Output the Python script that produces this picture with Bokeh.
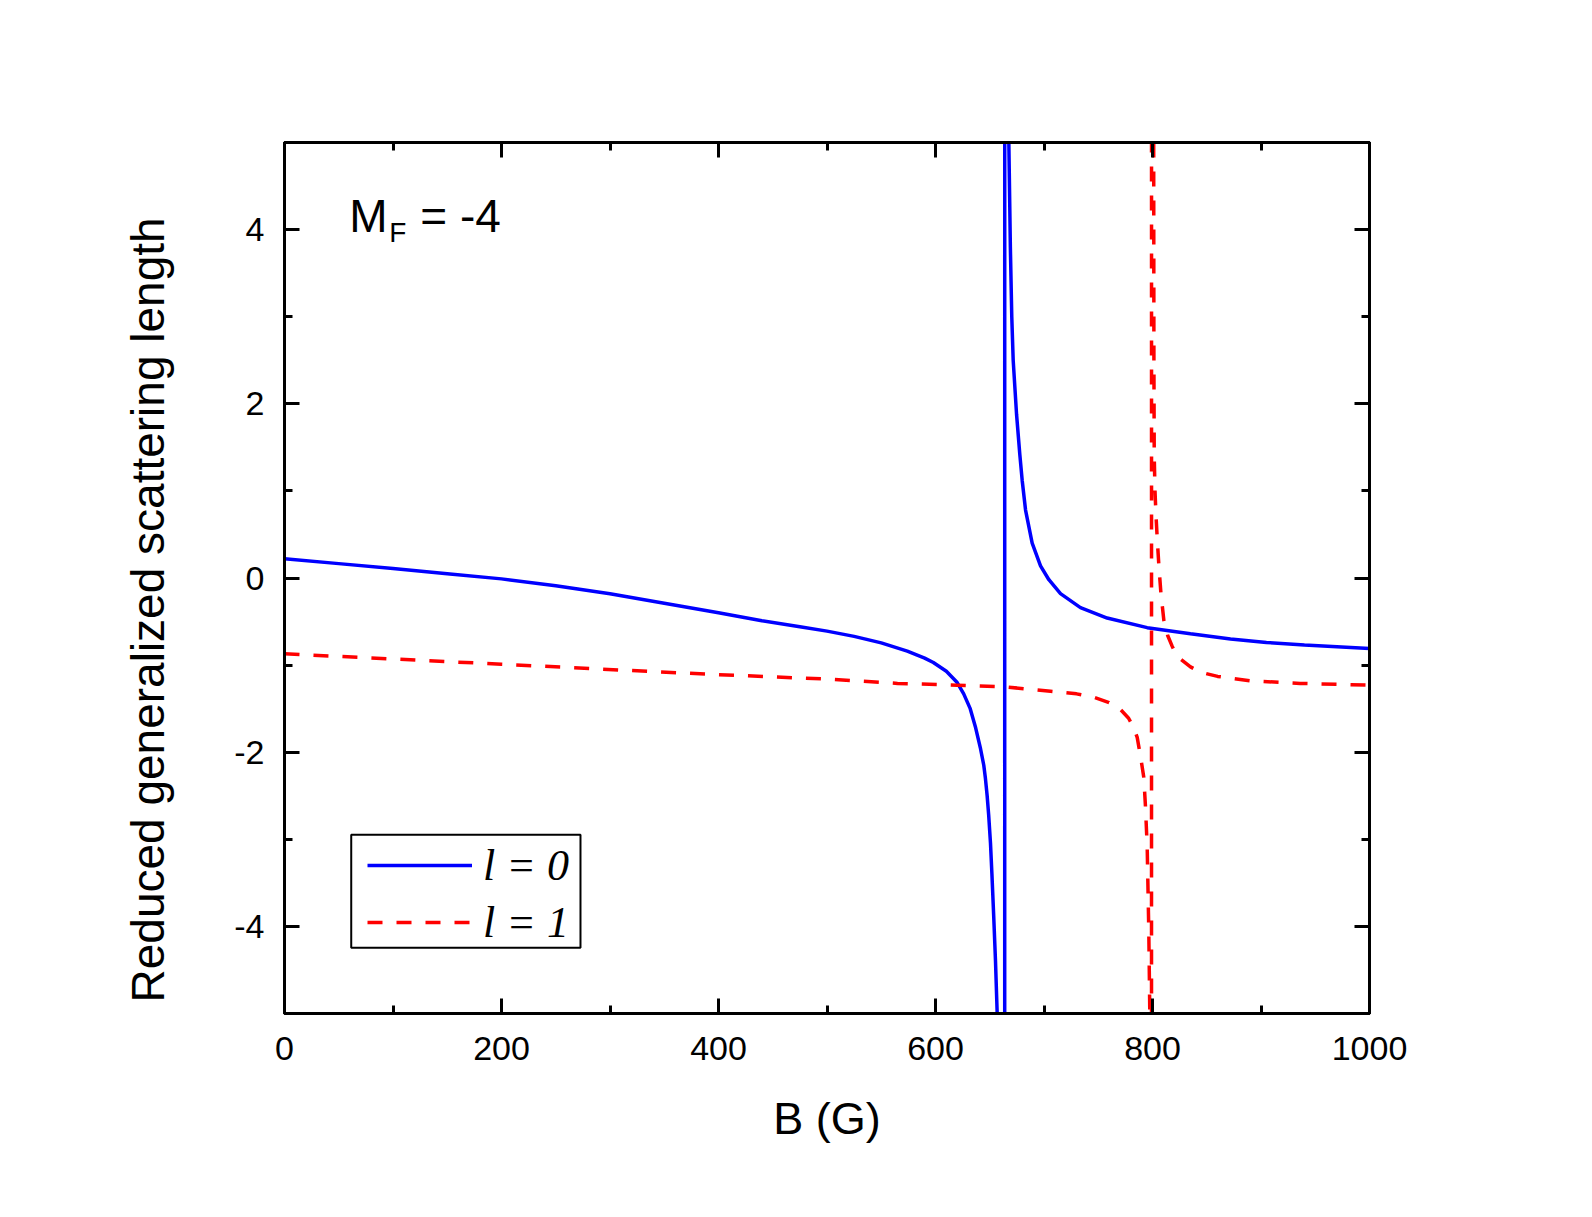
from bokeh.plotting import figure
from bokeh.models import (Range1d, LinearAxis, SingleIntervalTicker, Legend,
                          LegendItem, Label, ColumnDataSource, BoxAnnotation,
                          CustomJSTickFormatter)
from bokeh.embed import file_html
from bokeh.resources import INLINE

# ---------------- data ----------------
b_l0 = [0, 50, 100, 150, 200, 250, 300, 350, 400, 440, 475, 500, 525, 550,
        574, 590, 598, 610, 620, 626, 632, 637, 641.5, 644.5, 646, 647.6, 649,
        650.7, 652, 653.7, 655.3, 656.8, 660, 662, 663.7,
        663.9, 665, 666.3, 667.6, 669, 670.3, 671.6, 674.7, 677.7, 679.9,
        683, 689.1, 696.8, 704.5, 715.2, 733.6, 758.2, 795.1, 835, 871.9,
        905, 940, 970, 1000]
a_l0 = [0.22, 0.165, 0.11, 0.05, -0.01, -0.09, -0.18, -0.29, -0.40, -0.49,
        -0.56, -0.61, -0.67, -0.745, -0.84, -0.92, -0.97, -1.07, -1.20, -1.33,
        -1.50, -1.72, -1.96, -2.15, -2.30, -2.50, -2.72, -3.05, -3.40, -3.90, -4.40,
        -4.98, -9.0, -18.0, -80.0,
        80.0, 12.0, 7.2, 5.0, 3.8, 3.0, 2.5, 1.88, 1.42, 1.12,
        0.78, 0.40, 0.14, -0.02, -0.18, -0.34, -0.46, -0.57, -0.64, -0.70,
        -0.74, -0.77, -0.79, -0.81]

b_l1 = [0, 100, 200, 282, 400, 500, 565, 620, 664, 706, 730, 746, 760,
        770.5, 778, 782.8, 785.9, 789.0, 792.0, 793.5, 795.1, 796.6, 797.5,
        798.3, 799.0,
        799.2, 800.3, 801.1, 801.3, 801.6, 802.3, 803.3, 804.5, 806.0, 807.8,
        810.5, 814, 818, 822.7, 835, 844, 860, 890, 936, 1000]
a_l1 = [-0.87, -0.93, -0.99, -1.04, -1.11, -1.16, -1.21, -1.23, -1.25, -1.30,
        -1.33, -1.37, -1.43, -1.51, -1.61, -1.72, -1.83, -2.05, -2.29, -2.62,
        -3.08, -4.06, -4.98, -8.0, -100.0,
        100.0, 12.0, 5.0, 2.5, 1.4, 1.0, 0.7, 0.42, 0.12, -0.18,
        -0.49, -0.66, -0.78, -0.90, -1.02, -1.08, -1.13, -1.18, -1.21, -1.23]

x_ticks_interval = 200
y_ticks_interval = 2
series_labels = ["l = 0", "l = 1"]
x_title = "B (G)"
y_title = "Reduced generalized scattering length"

FONT = "Liberation Sans"

p = figure(frame_width=1085, frame_height=871,
           min_border_left=284, min_border_right=223,
           min_border_top=142, min_border_bottom=204,
           x_range=Range1d(0, 1000), y_range=Range1d(-5, 5),
           output_backend="svg", toolbar_location=None,
           background_fill_color="white", border_fill_color="white")

p.xgrid.visible = False
p.ygrid.visible = False
p.outline_line_color = "black"
p.outline_line_width = 3
p.outline_line_alpha = 1.0


def style_axis(ax, ticker):
    ax.ticker = ticker
    ax.axis_line_color = "black"
    ax.axis_line_width = 3
    ax.major_tick_line_color = "black"
    ax.major_tick_line_width = 3
    ax.minor_tick_line_color = "black"
    ax.minor_tick_line_width = 3
    ax.major_tick_in = 15
    ax.major_tick_out = 0
    ax.minor_tick_in = 8
    ax.minor_tick_out = 0
    ax.major_label_text_font = FONT
    ax.major_label_text_color = "black"
    ax.major_label_text_font_size = "34px"


style_axis(p.xaxis[0], SingleIntervalTicker(interval=x_ticks_interval, num_minor_ticks=2))
style_axis(p.yaxis[0], SingleIntervalTicker(interval=y_ticks_interval, num_minor_ticks=2))
p.xaxis[0].major_label_standoff = 23
p.yaxis[0].major_label_standoff = 20
p.yaxis[0].formatter = CustomJSTickFormatter(code="return String(tick);")

p.xaxis[0].axis_label = x_title
p.xaxis[0].axis_label_text_font = FONT
p.xaxis[0].axis_label_text_font_size = "45px"
p.xaxis[0].axis_label_text_font_style = "normal"
p.xaxis[0].axis_label_text_color = "black"
p.xaxis[0].axis_label_standoff = 30

# y title: trailing no-break spaces shift the centred title downwards as in the reference
p.yaxis[0].axis_label = y_title + "\u00a0" * 5
p.yaxis[0].axis_label_text_font = FONT
p.yaxis[0].axis_label_text_font_size = "46px"
p.yaxis[0].axis_label_text_font_style = "normal"
p.yaxis[0].axis_label_text_color = "black"
p.yaxis[0].axis_label_standoff = 57

top_ax = LinearAxis(formatter=CustomJSTickFormatter(code="return '';"))
style_axis(top_ax, SingleIntervalTicker(interval=x_ticks_interval, num_minor_ticks=2))
p.add_layout(top_ax, "above")
right_ax = LinearAxis(formatter=CustomJSTickFormatter(code="return '';"))
style_axis(right_ax, SingleIntervalTicker(interval=y_ticks_interval, num_minor_ticks=2))
p.add_layout(right_ax, "right")

src0 = ColumnDataSource(dict(b=b_l0, a=a_l0))
src1 = ColumnDataSource(dict(b=b_l1, a=a_l1))

r0 = p.line("b", "a", source=src0, line_color="#0000ff", line_width=3.5)
r1 = p.line("b", "a", source=src1, line_color="#ff0000", line_width=3.5,
            line_dash="15 14")

# legend frame
p.add_layout(BoxAnnotation(left=61.5, right=272.8, top=-2.948, bottom=-4.246,
                           fill_color="white", fill_alpha=1.0,
                           line_color="black", line_width=2, line_alpha=1.0))

legend = Legend(items=[LegendItem(label=series_labels[0], renderers=[r0]),
                       LegendItem(label=series_labels[1], renderers=[r1])],
                location=(83, 65))
legend.border_line_alpha = 0
legend.background_fill_alpha = 0
legend.label_text_font = "Liberation Serif"
legend.label_text_font_style = "italic"
legend.label_text_font_size = "44px"
legend.label_text_color = "black"
legend.glyph_width = 105
legend.glyph_height = 52
legend.label_height = 52
legend.label_standoff = 11
legend.padding = 0
legend.spacing = 5
legend.margin = 0
p.add_layout(legend, "center")

# M_F = -4 annotation
p.add_layout(Label(x=59.7, y=4.153, text="M", text_align="left",
                   text_baseline="alphabetic", text_font=FONT,
                   text_font_size="46px", text_color="black"))
p.add_layout(Label(x=96.5, y=3.969, text="F", text_align="left",
                   text_baseline="alphabetic", text_font=FONT,
                   text_font_size="28px", text_color="black"))
p.add_layout(Label(x=125.1, y=4.153, text="= -4", text_align="left",
                   text_baseline="alphabetic", text_font=FONT,
                   text_font_size="46px", text_color="black"))

open("out.html", "w").write(file_html(p, INLINE))
